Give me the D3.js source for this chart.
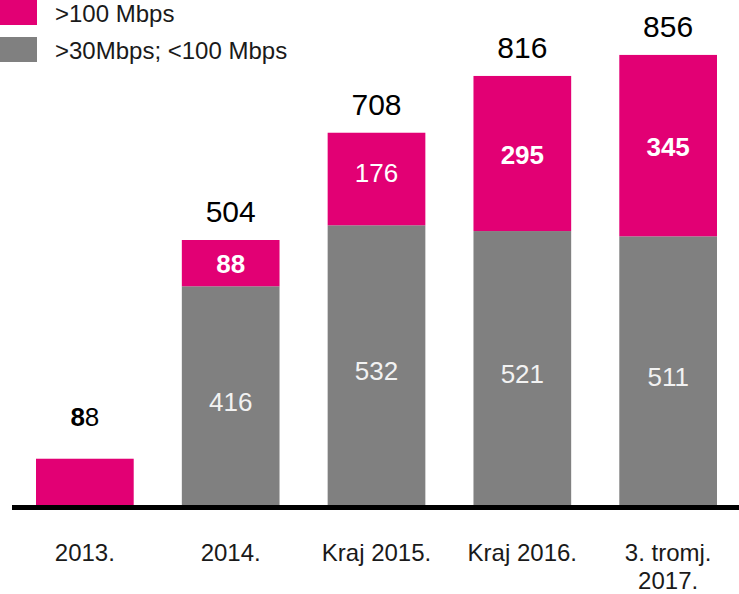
<!DOCTYPE html>
<html>
<head>
<meta charset="utf-8">
<script src="https://cdn.jsdelivr.net/npm/d3@7"></script>
<style>
  body { margin: 0; background: #fff; }
  svg { display: block; font-family: "Liberation Sans", Arial, sans-serif; }
</style>
</head>
<body>
<div id="chart"></div>
<script>
const categories = ["2013.", "2014.", "Kraj 2015.", "Kraj 2016.", "3. tromj.\n2017."];
const fastValues = [88, 88, 176, 295, 345];     // >100 Mbps
const midValues = [0, 416, 532, 521, 511];      // >30Mbps; <100 Mbps
const seriesNames = [">100 Mbps", ">30Mbps; <100 Mbps"];

const width = 739;
const height = 594;
const magenta = "#e20074";
const grey = "#808080";
const baseY = 505;

const svg = d3.select("#chart")
    .append("svg")
    .attr("width", width)
    .attr("height", height);

const x = d3.scaleBand()
    .domain(categories)
    .range([36, 717])
    .paddingInner(0.33)
    .paddingOuter(0);

const y = d3.scaleLinear()
    .domain([0, 504])
    .range([baseY, 240]);

const rows = categories.map((c, i) => ({ cat: c, mid: midValues[i], fast: fastValues[i], total: midValues[i] + fastValues[i] }));

// grey segments
svg.append("g")
    .selectAll("rect")
    .data(rows.filter(d => d.mid > 0))
    .join("rect")
    .attr("x", d => x(d.cat))
    .attr("width", x.bandwidth())
    .attr("y", d => y(d.mid))
    .attr("height", d => y(0) - y(d.mid))
    .style("fill", grey);

// magenta segments
svg.append("g")
    .selectAll("rect")
    .data(rows)
    .join("rect")
    .attr("x", d => x(d.cat))
    .attr("width", x.bandwidth())
    .attr("y", d => y(d.total))
    .attr("height", d => y(d.mid) - y(d.total))
    .style("fill", magenta);

// baseline
svg.append("line")
    .attr("x1", 12).attr("x2", width)
    .attr("y1", baseY + 2.5).attr("y2", baseY + 2.5)
    .style("stroke", "#000")
    .style("stroke-width", 5);

const cx = d => x(d.cat) + x.bandwidth() / 2;

// grey segment labels
svg.append("g")
    .selectAll("text")
    .data(rows.filter(d => d.mid > 0))
    .join("text")
    .attr("x", cx)
    .attr("y", d => (y(0) + y(d.mid)) / 2 + 15)
    .attr("text-anchor", "middle")
    .attr("font-size", "26px")
    .style("fill", "#f2f2f2")
    .text(d => d.mid);

// magenta segment labels (not on the single 2013 bar)
svg.append("g")
    .selectAll("text")
    .data(rows.filter(d => d.mid > 0))
    .join("text")
    .attr("x", cx)
    .attr("y", d => (y(d.mid) + y(d.total)) / 2 + (d.fast === 176 ? 3 : 10))
    .attr("text-anchor", "middle")
    .attr("font-size", "26px")
    .attr("font-weight", d => d.fast === 176 ? "normal" : "bold")
    .style("fill", "#fff")
    .text(d => d.fast);

// totals
const totals = svg.append("g")
    .selectAll("text")
    .data(rows)
    .join("text")
    .attr("x", cx)
    .attr("y", d => y(d.total) - (d.mid > 0 ? 18 : 33))
    .attr("text-anchor", "middle")
    .attr("font-size", d => d.mid > 0 ? "30px" : "26px")
    .style("fill", "#000");

totals.filter(d => d.mid > 0).text(d => d.total);
totals.filter(d => d.mid === 0).each(function(d) {
    const s = String(d.total);
    const t = d3.select(this);
    t.append("tspan").attr("font-weight", "bold").text(s.slice(0, 1));
    t.append("tspan").text(s.slice(1));
});

// category labels
svg.append("g")
    .selectAll("text")
    .data(categories)
    .join("text")
    .attr("x", d => x(d) + x.bandwidth() / 2)
    .attr("y", 561)
    .attr("text-anchor", "middle")
    .attr("font-size", "24px")
    .style("fill", "#1a1a1a")
    .each(function(d) {
        d3.select(this).selectAll("tspan")
            .data(d.split("\n"))
            .join("tspan")
            .attr("x", x(d) + x.bandwidth() / 2)
            .attr("dy", (l, i) => i === 0 ? 0 : 28)
            .text(l => l);
    });

// legend
const legend = svg.append("g")
    .selectAll("g")
    .data(seriesNames)
    .join("g")
    .attr("transform", (d, i) => `translate(0, ${i * 37})`);

legend.append("rect")
    .attr("x", 0).attr("y", 0)
    .attr("width", 37).attr("height", 25)
    .style("fill", (d, i) => i === 0 ? magenta : grey);

legend.append("text")
    .attr("x", 55)
    .attr("y", 22)
    .attr("font-size", "24px")
    .style("fill", "#1a1a1a")
    .text(d => d);
</script>
</body>
</html>
